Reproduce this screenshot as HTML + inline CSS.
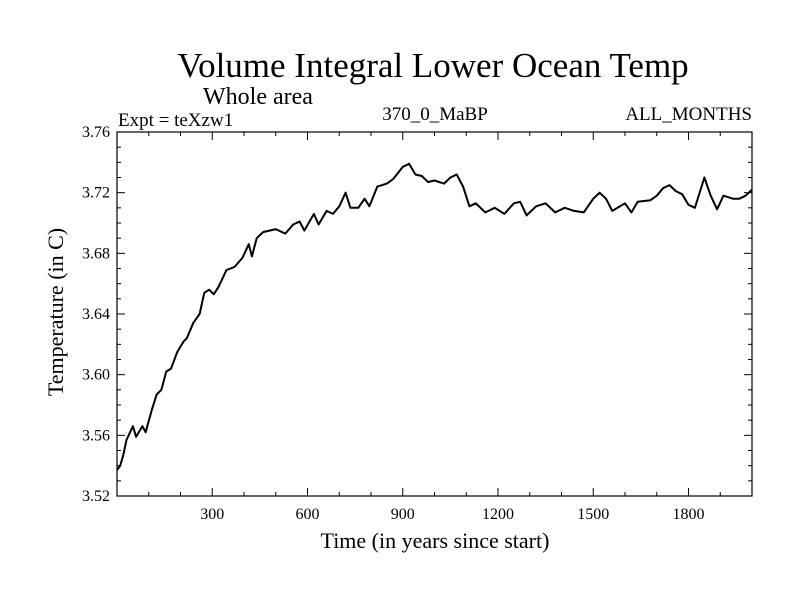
<!DOCTYPE html>
<html><head><meta charset="utf-8"><style>
body{margin:0;background:#fff;}
svg text{font-family:"Liberation Serif",serif;fill:#000;}
</style></head><body>
<svg id="chart" width="800" height="600" xmlns="http://www.w3.org/2000/svg">
<text x="433" y="77" font-size="35" text-anchor="middle">Volume Integral Lower Ocean Temp</text>
<text x="203" y="104" font-size="24">Whole area</text>
<text x="118" y="126" font-size="19">Expt = teXzw1</text>
<text x="435" y="120" font-size="19" text-anchor="middle">370_0_MaBP</text>
<text x="752" y="120" font-size="19" text-anchor="end">ALL_MONTHS</text>
<text transform="translate(63,312) rotate(-90)" font-size="22" text-anchor="middle">Temperature (in C)</text>
<text x="435" y="548" font-size="22" text-anchor="middle">Time (in years since start)</text>
<g id="axes"></g>
<path id="series" fill="none" stroke="#000" stroke-width="2" stroke-linejoin="round"/>
<rect x="117" y="132" width="635" height="364" fill="none" stroke="#000" stroke-width="1.2"/>
</svg>
<script>
const years=[0,10,20,30,50,60,80,90,110,125,140,155,170,190,210,220,240,260,275,290,305,320,345,370,395,415,425,440,460,480,500,530,555,575,590,620,635,660,680,700,720,735,760,780,795,820,850,870,900,920,940,960,980,1000,1030,1050,1070,1090,1110,1130,1160,1190,1220,1250,1270,1290,1320,1350,1380,1410,1440,1470,1500,1520,1540,1560,1600,1620,1640,1680,1700,1720,1740,1760,1780,1800,1820,1850,1870,1890,1910,1940,1960,1980,2000];
const temps=[3.537,3.540,3.547,3.557,3.566,3.559,3.566,3.562,3.577,3.587,3.590,3.602,3.604,3.615,3.622,3.624,3.634,3.640,3.654,3.656,3.653,3.658,3.669,3.671,3.677,3.686,3.678,3.690,3.694,3.695,3.696,3.693,3.699,3.701,3.695,3.706,3.699,3.708,3.706,3.711,3.720,3.710,3.710,3.716,3.711,3.724,3.726,3.729,3.737,3.739,3.732,3.731,3.727,3.728,3.726,3.730,3.732,3.724,3.711,3.713,3.707,3.710,3.706,3.713,3.714,3.705,3.711,3.713,3.707,3.710,3.708,3.707,3.716,3.720,3.716,3.708,3.713,3.707,3.714,3.715,3.718,3.723,3.725,3.721,3.719,3.712,3.710,3.730,3.718,3.709,3.718,3.716,3.716,3.718,3.722];
const xTickLabels=[300,600,900,1200,1500,1800];
const yTickLabels=["3.52","3.56","3.60","3.64","3.68","3.72","3.76"];
const X0=117,X1=752,Y0=496,Y1=132,XMIN=0,XMAX=2000,YMIN=3.52,YMAX=3.76;
const sx=v=>X0+(v-XMIN)/(XMAX-XMIN)*(X1-X0);
const sy=v=>Y0-(v-YMIN)/(YMAX-YMIN)*(Y0-Y1);
const NS="http://www.w3.org/2000/svg";
const g=document.getElementById('axes');
function line(x1,y1,x2,y2,name){const l=document.createElementNS(NS,'line');
l.setAttribute('x1',x1);l.setAttribute('y1',y1);l.setAttribute('x2',x2);l.setAttribute('y2',y2);
l.setAttribute('stroke','#000');l.setAttribute('stroke-width','1');


g.appendChild(l);}
function text(x,y,s,anchor,name){const t=document.createElementNS(NS,'text');
t.setAttribute('x',x);t.setAttribute('y',y);t.setAttribute('font-size','16');t.setAttribute('text-anchor',anchor);t.textContent=s;


g.appendChild(t);}
for(let v=100;v<XMAX;v+=100){const x=sx(v);const L=(v%300===0)?8:4;
line(x,Y0,x,Y0-L,'x-tick');line(x,Y1,x,Y1+L,'x-tick-top');}
xTickLabels.forEach(v=>text(sx(v),Y0+23,String(v),'middle','x-tick-label'));
for(let i=1;i<24;i++){const v=YMIN+i*0.01;const y=sy(v);const L=(i%4===0)?8:4;
line(X0,y,X0+L,y,'y-tick');line(X1,y,X1-L,y,'y-tick-right');}
yTickLabels.forEach(s=>text(X0-7,sy(parseFloat(s))+5,s,'end','y-tick-label'));
let d='';years.forEach((y,i)=>{d+=(i?'L':'M')+sx(y).toFixed(1)+','+sy(temps[i]).toFixed(1);});
document.getElementById('series').setAttribute('d',d);
</script>
</body></html>
